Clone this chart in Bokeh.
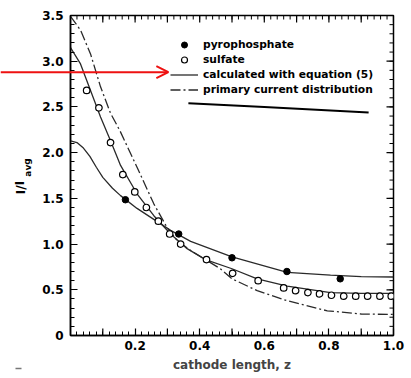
from bokeh.plotting import figure
from bokeh.models import (FixedTicker, Range1d, Legend, LegendItem, Label, Arrow,
                          OpenHead, PrintfTickFormatter)
from bokeh.layouts import column
from bokeh.embed import file_html
from bokeh.resources import INLINE

# ---- data ----
pyro_z = [0.17, 0.335, 0.50, 0.67, 0.835]
pyro_v = [1.485, 1.11, 0.85, 0.70, 0.62]

sulf_z = [0.050, 0.088, 0.124, 0.162, 0.199, 0.235, 0.272, 0.307, 0.341, 0.421,
          0.502, 0.581, 0.660, 0.697, 0.735, 0.771, 0.808, 0.846, 0.883, 0.920,
          0.958, 0.993]
sulf_v = [2.68, 2.49, 2.11, 1.76, 1.57, 1.40, 1.25, 1.11, 1.00, 0.83,
          0.68, 0.60, 0.52, 0.49, 0.47, 0.455, 0.44, 0.43, 0.43, 0.43,
          0.43, 0.43]

calc_pyro_z = [0, 0.02, 0.04, 0.06, 0.08, 0.10, 0.13, 0.155, 0.206, 0.258, 0.31,
               0.372, 0.5, 0.671, 0.805, 0.9, 1.0]
calc_pyro_v = [2.13, 2.11, 2.05, 1.96, 1.84, 1.73, 1.61, 1.53, 1.39, 1.27, 1.15,
               1.03, 0.86, 0.69, 0.66, 0.645, 0.64]

calc_sulf_z = [0, 0.031, 0.062, 0.093, 0.124, 0.155, 0.206, 0.258, 0.31, 0.361,
               0.418, 0.5, 0.578, 0.671, 0.805, 0.9, 1.0]
calc_sulf_v = [3.15, 2.97, 2.68, 2.39, 2.13, 1.86, 1.55, 1.31, 1.11, 0.95,
               0.83, 0.73, 0.62, 0.54, 0.47, 0.46, 0.46]

prim_z = [0, 0.031, 0.062, 0.093, 0.124, 0.153, 0.206, 0.258, 0.299, 0.33,
          0.372, 0.464, 0.5, 0.578, 0.671, 0.795, 0.9, 1.0]
prim_v = [3.49, 3.34, 3.08, 2.72, 2.43, 2.24, 1.84, 1.44, 1.18, 1.04,
          0.93, 0.73, 0.62, 0.49, 0.38, 0.27, 0.235, 0.23]

mark_z = [0.365, 0.6, 0.923]
mark_v = [2.54, 2.50, 2.44]

x_ticks = [0.2, 0.4, 0.6, 0.8, 1.0]
x_mid = [0.1, 0.3, 0.5, 0.7, 0.9]
x_minor = [i / 50 for i in range(51)]
y_ticks = [0, 0.5, 1.0, 1.5, 2.0, 2.5, 3.0, 3.5]
y_minor = [i / 10 for i in range(36)]

legend_labels = ["pyrophosphate", "sulfate", "calculated with equation (5)",
                 "primary current distribution"]
y_title = "I/I"
y_title_sub = "avg"

# ---- geometry ----
W, H = 411, 378
BL, BR, BT, BB = 70, 18, 15, 43
FW, FH = W - BL - BR, H - BT - BB
XS, XE, YS, YE = 0.0, 1.0, 0.0, 3.5
dx = (XE - XS) / FW      # data units per pixel
dy = (YE - YS) / FH

FONT = "DejaVu Sans"
INK = "#2a2a2a"
RED = "#ee1111"

p = figure(width=W, height=H, output_backend="svg", toolbar_location=None,
           x_range=Range1d(XS, XE), y_range=Range1d(YS, YE),
           min_border_left=BL, min_border_right=BR, min_border_top=BT,
           min_border_bottom=BB)
p.frame_align = False
p.grid.visible = False
p.outline_line_color = "black"
p.outline_line_width = 1.5
p.background_fill_color = "white"
p.border_fill_color = "white"


def style_axis(ax):
    ax.axis_line_color = "black"
    ax.axis_line_width = 1.5
    ax.major_tick_in = 7
    ax.major_tick_out = 0
    ax.minor_tick_in = 4
    ax.minor_tick_out = 0
    ax.major_tick_line_color = "black"
    ax.minor_tick_line_color = "black"
    ax.major_tick_line_width = 1.2
    ax.minor_tick_line_width = 1
    ax.major_label_text_font = FONT
    ax.major_label_text_font_style = "bold"
    ax.major_label_text_color = "black"
    ax.major_label_text_font_size = "12px"


xa = p.xaxis[0]
xa.ticker = FixedTicker(ticks=x_ticks, minor_ticks=x_minor)
xa.formatter = PrintfTickFormatter(format="%.1f")
style_axis(xa)
xa.major_label_standoff = 5
xa.axis_label = "cathode length, z"
xa.axis_label_text_font = FONT
xa.axis_label_text_font_style = "bold"
xa.axis_label_text_font_size = "12px"
xa.axis_label_standoff = 5

ya = p.yaxis[0]
ya.ticker = FixedTicker(ticks=y_ticks, minor_ticks=y_minor)
ya.formatter = PrintfTickFormatter(format="%.1f")
ya.major_label_overrides = {0: "0"}
style_axis(ya)
ya.major_label_standoff = 7

# mirrored inward ticks on the top and right edges
p.segment(x0=x_minor, y0=[YE] * len(x_minor), x1=x_minor,
          y1=[YE - 4 * dy] * len(x_minor), line_color="black", line_width=1)
p.segment(x0=x_ticks + x_mid, y0=[YE] * 10, x1=x_ticks + x_mid,
          y1=[YE - 7 * dy] * 10, line_color="black", line_width=1.2)
p.segment(x0=[XE] * len(y_minor), y0=y_minor, x1=[XE - 4 * dx] * len(y_minor),
          y1=y_minor, line_color="black", line_width=1)
p.segment(x0=[XE] * len(y_ticks), y0=y_ticks, x1=[XE - 7 * dx] * len(y_ticks),
          y1=y_ticks, line_color="black", line_width=1.2)
# longer ticks at the odd tenths on the bottom edge
p.segment(x0=x_mid, y0=[YS] * 5, x1=x_mid, y1=[YS + 7 * dy] * 5,
          line_color="black", line_width=1.2)

# curves
r_prim = p.line(prim_z, prim_v, line_color=INK, line_width=1.3, line_dash="10 3 2 3")
r_cs = p.line(calc_sulf_z, calc_sulf_v, line_color=INK, line_width=1.3)
r_cp = p.line(calc_pyro_z, calc_pyro_v, line_color=INK, line_width=1.3)

# points
r_s = p.scatter(sulf_z, sulf_v, marker="circle", size=6.5, fill_color="white",
                line_color="black", line_width=1.2)
r_p = p.scatter(pyro_z, pyro_v, marker="circle", size=6.5, fill_color="black",
                line_color="black")

# hand-drawn stroke under the legend
p.line(mark_z, mark_v, line_color="black", line_width=2)

legend = Legend(items=[
    LegendItem(label=legend_labels[0], renderers=[r_p]),
    LegendItem(label=legend_labels[1], renderers=[r_s]),
    LegendItem(label=legend_labels[2], renderers=[r_cs]),
    LegendItem(label=legend_labels[3], renderers=[r_prim]),
], location=(100, 238), orientation="vertical")
legend.label_text_font = FONT
legend.label_text_font_style = "bold"
legend.label_text_font_size = "10.7px"
legend.label_text_color = "black"
legend.glyph_width = 28
legend.glyph_height = 15
legend.label_height = 15
legend.label_standoff = 5
legend.spacing = 0
legend.padding = 0
legend.margin = 0
legend.background_fill_alpha = 0
legend.border_line_alpha = 0
p.add_layout(legend, "center")

# ---- transparent overlay covering the whole page (same data coordinates) ----
q = figure(width=W, height=H, output_backend="svg", toolbar_location=None,
           x_range=Range1d(XS - BL * dx, XE + BR * dx),
           y_range=Range1d(YS - BB * dy, YE + BT * dy),
           min_border=0, x_axis_type=None, y_axis_type=None)
q.frame_align = False
q.grid.visible = False
q.outline_line_color = None
q.background_fill_alpha = 0
q.border_fill_alpha = 0
q.margin = (-H, 0, 0, 0)

q.add_layout(Label(x=XS - 50 * dx, y=YS + 148 * dy, text=y_title, angle=1.5708,
                   text_font=FONT, text_font_style="bold", text_font_size="12px",
                   text_align="center", text_baseline="middle", text_color="black"))
q.add_layout(Label(x=XS - 43 * dx, y=YS + 168 * dy, text=y_title_sub, angle=1.5708,
                   text_font=FONT, text_font_style="bold", text_font_size="9px",
                   text_align="center", text_baseline="middle", text_color="black"))
q.add_layout(Arrow(end=OpenHead(size=12, line_color=RED, line_width=2),
                   x_start=XS - BL * dx, y_start=2.88, x_end=0.303, y_end=2.88,
                   line_color=RED, line_width=2))
# small scan speck at the lower left corner
q.line([XS - 55 * dx, XS - 49 * dx], [YS - 33 * dy, YS - 33 * dy],
       line_color="#777777", line_width=1.5)

layout = column(p, q, spacing=0)
open("out.html", "w").write(file_html(layout, INLINE))
